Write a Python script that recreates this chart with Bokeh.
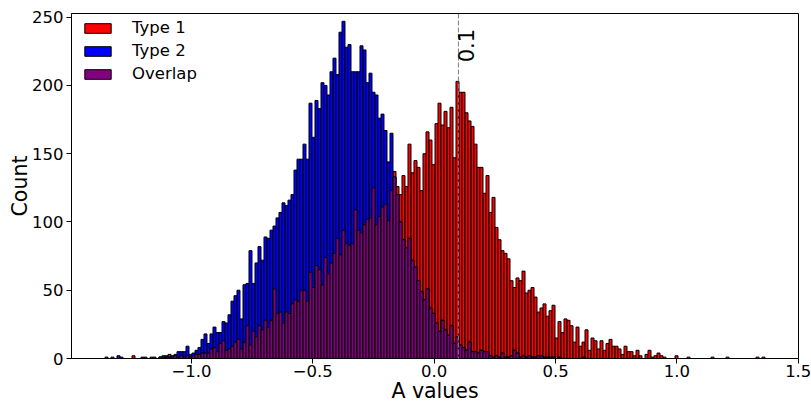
import numpy as np
from bokeh.plotting import figure
from bokeh.models import Span, Label, Legend, LegendItem, FixedTicker
from bokeh.embed import file_html
from bokeh.resources import INLINE

# ---- data -------------------------------------------------------------
n_bins = 220
bin_lo, bin_hi = -1.356, 1.363

type1_counts = [
    0, 0, 0, 0, 0, 0, 0, 0, 0, 2, 0, 0, 0, 1, 0, 0, 0, 0, 1, 2,
    1, 3, 1, 3, 1, 2, 1, 2, 1, 2, 3, 3,
    4, 4, 4, 7, 8, 5, 11, 13, 6, 7, 9, 12, 14, 7, 12, 24, 10, 20, 16, 24,
    21, 28, 23, 28, 51, 33, 34, 26, 34, 33,
    40, 43, 42, 50, 50, 42, 63, 52, 68, 65, 54, 74, 62, 70, 77, 88, 76, 94, 84, 83,
    84, 109, 94, 92, 98, 102, 103, 125, 98, 104, 111, 113, 101, 123,
    137, 126, 120, 134, 126, 157, 136, 145, 140, 123, 150, 166, 160, 142, 172, 187,
    171, 181, 169, 184, 147, 203, 195,
    195, 180, 174, 170, 157, 140, 140, 121, 134, 107, 118, 96, 87, 79, 77, 73, 57, 52,
    59, 57, 64, 48, 50, 52, 45, 34, 37, 40, 31, 35,
    39, 15, 27, 19, 29, 28, 24, 12, 23, 9, 12, 21, 6, 15, 13, 7, 13, 6, 11, 14,
    9, 9, 7, 3, 9, 5, 5, 2, 6, 2, 0, 3, 6, 1, 2, 4, 2, 1, 0, 0,
    0, 2, 0, 0, 0, 1, 0, 0, 0, 0, 0, 0, 0, 1, 0, 0, 0, 0, 1, 0,
    0, 0, 0, 0, 0, 0, 0, 0, 1, 0, 1,
]

type2_counts = [
    1, 0, 1, 0, 2, 1, 0, 0, 0, 0, 0, 0, 1, 0, 0, 1, 1, 0, 1, 1,
    2, 1, 2, 2, 5, 5, 5, 9, 3, 4, 6, 8,
    14, 18, 11, 18, 23, 19, 19, 27, 26, 32, 42, 46, 50, 29, 54, 55, 79, 55, 70, 82,
    72, 89, 88, 94, 97, 103, 107, 114, 112, 116, 120, 138, 146,
    146, 157, 146, 187, 162, 189, 183, 202, 200, 193, 210, 220, 208, 239, 247, 228,
    230, 210, 210, 210, 229, 226, 202, 209, 195, 193, 176,
    179, 167, 144, 165, 133,
    120, 100, 87, 81, 88, 72, 67, 57, 49, 43, 51, 37, 33, 26, 20, 28, 21, 17, 24, 11, 16,
    10, 8, 6, 12, 5, 5, 4, 6, 5, 5, 2, 1, 2, 1, 4, 1, 1, 2, 6, 4,
    1, 2, 1, 2, 1, 1, 2, 2, 1, 1, 1,
    1, 0, 1, 0, 0, 0, 0, 0, 0, 0, 1, 0, 0, 0, 0, 0, 0, 0, 0, 0,
    0, 0, 0, 0, 0, 0, 0, 0, 0, 0, 0, 0, 0, 0, 0, 0, 0, 0, 0, 0,
    0, 0, 0, 0, 0, 0, 0, 0, 0, 0, 0, 0, 0, 0, 0, 0, 0, 0, 0, 0,
    0, 0, 0, 0, 0, 0, 0, 0, 0, 0, 0,
]

series_labels = ["Type 1", "Type 2", "Overlap"]
series_colors = ["#ff0000", "#0000ff", "#800080"]

threshold = 0.1
threshold_label = "0.1"

x_ticks = [-1.0, -0.5, 0.0, 0.5, 1.0, 1.5]
x_tick_labels = ["\u22121.0", "\u22120.5", "0.0", "0.5", "1.0", "1.5"]
y_ticks = [0, 50, 100, 150, 200, 250]
x_title = "A values"
y_title = "Count"

# ---- build ------------------------------------------------------------
edges = np.linspace(bin_lo, bin_hi, n_bins + 1)
left, right = edges[:-1], edges[1:]
t1 = np.array(type1_counts, dtype=float)
t2 = np.array(type2_counts, dtype=float)
overlap = np.minimum(t1, t2)

FONT = "DejaVu Sans"

p = figure(
    frame_width=727, frame_height=345,
    x_range=(-1.494, 1.501), y_range=(0, 252.7),
    output_backend="svg", toolbar_location=None,
    min_border_left=71, min_border_right=13, min_border_top=13, min_border_bottom=45,
)

p.xgrid.visible = False
p.ygrid.visible = False
p.outline_line_color = "black"
p.outline_line_width = 1
p.background_fill_color = "white"
p.border_fill_color = "white"

r1 = p.quad(left=left, right=right, bottom=0, top=t1, fill_color=series_colors[0],
            line_color="black", line_width=1)
r2 = p.quad(left=left, right=right, bottom=0, top=t2, fill_color=series_colors[1],
            line_color="black", line_width=1)
r3 = p.quad(left=left, right=right, bottom=0, top=overlap, fill_color=series_colors[2],
            line_color="black", line_width=1)

p.add_layout(Span(location=threshold, dimension="height", line_color="gray",
                  line_dash="5 2", line_width=1))
p.add_layout(Label(x=threshold, y=217, text=threshold_label, angle=np.pi / 2,
                   text_align="left", text_baseline="top", x_offset=0,
                   text_font=FONT, text_font_size="21px", text_color="black"))

for ax in (p.xaxis[0], p.yaxis[0]):
    ax.axis_line_color = "black"
    ax.major_tick_line_color = "black"
    ax.major_tick_out = 5
    ax.major_tick_in = 0
    ax.minor_tick_line_color = None
    ax.major_label_text_font = FONT
    ax.major_label_text_font_size = "16.5px"
    ax.major_label_text_color = "black"
    ax.axis_label_text_font = FONT
    ax.axis_label_text_font_size = "20.5px"
    ax.axis_label_text_font_style = "normal"
    ax.axis_label_text_color = "black"
    ax.major_label_standoff = 3

p.xaxis.ticker = FixedTicker(ticks=x_ticks)
p.xaxis.major_label_overrides = {t: s for t, s in zip(x_ticks, x_tick_labels)}
p.xaxis.major_label_standoff = 1
p.yaxis.ticker = FixedTicker(ticks=y_ticks)
p.xaxis.axis_label = x_title
p.yaxis.axis_label = y_title
p.xaxis.axis_label_standoff = -1
p.yaxis.axis_label_standoff = -3

legend = Legend(
    items=[LegendItem(label=series_labels[0], renderers=[r1]),
           LegendItem(label=series_labels[1], renderers=[r2]),
           LegendItem(label=series_labels[2], renderers=[r3])],
    location=(10, 275),
    margin=0, padding=0, spacing=4,
    glyph_width=33, glyph_height=12, label_standoff=18,
    label_text_font=FONT, label_text_font_size="16.5px", label_text_color="black",
    border_line_alpha=0, background_fill_alpha=0,
)
p.add_layout(legend)

open("out.html", "w").write(file_html(p, INLINE))
